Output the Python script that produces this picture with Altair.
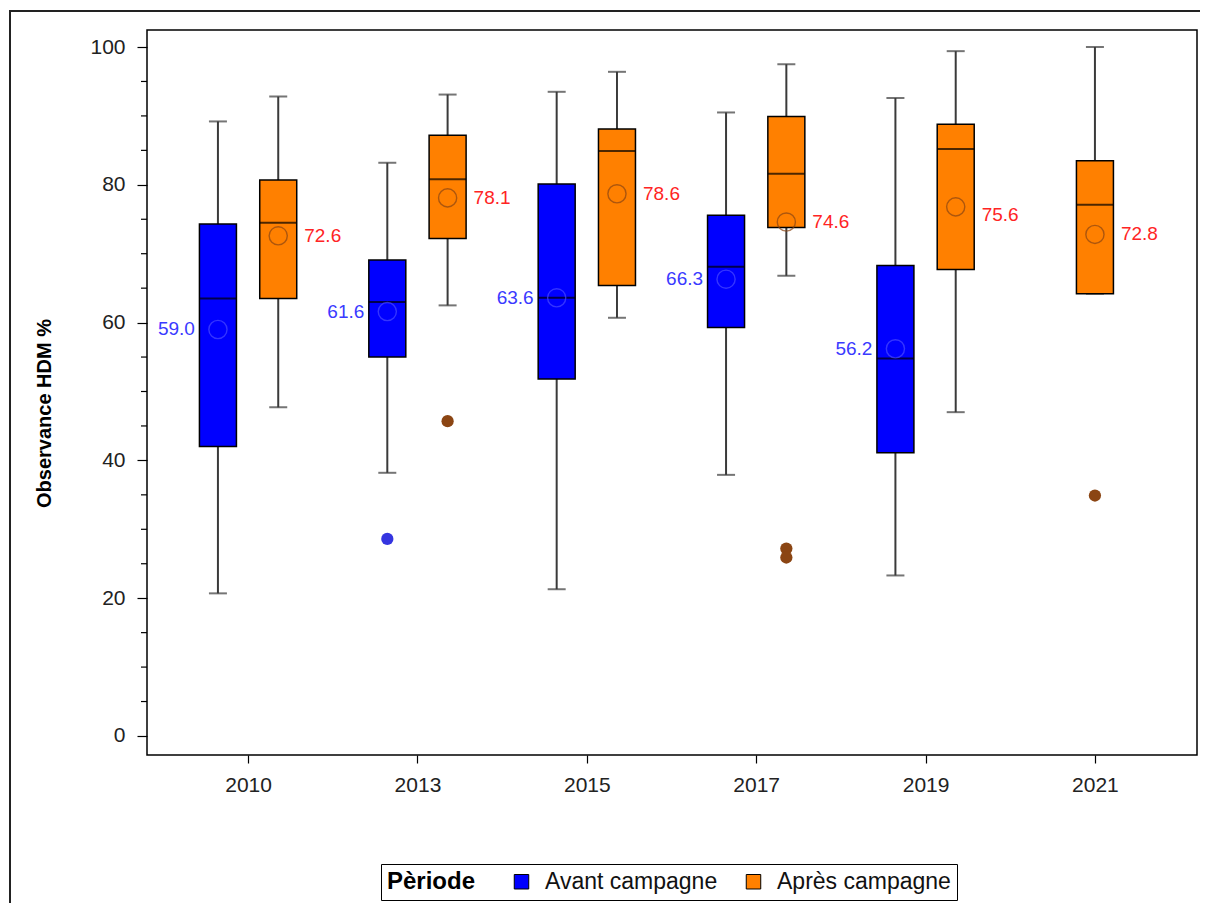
import altair as alt
import pandas as pd

# ---------------- data ----------------
years = ["2010", "2013", "2015", "2017", "2019", "2021"]
periods = ["Avant campagne", "Après campagne"]

avant_years = ["2010", "2013", "2015", "2017", "2019"]
avant_low = [20.7, 38.2, 21.3, 37.9, 23.3]
avant_q1 = [42.0, 55.0, 51.8, 59.3, 41.1]
avant_median = [63.5, 63.0, 63.6, 68.1, 54.8]
avant_q3 = [74.3, 69.1, 80.1, 75.6, 68.3]
avant_high = [89.2, 83.2, 93.5, 90.5, 92.6]
avant_mean = [59.0, 61.6, 63.6, 66.3, 56.2]
avant_mean_label = [59.0, 61.6, 63.6, 66.3, 56.2]

apres_years = ["2010", "2013", "2015", "2017", "2019", "2021"]
apres_low = [47.7, 62.5, 60.7, 66.8, 47.0, 64.2]
apres_q1 = [63.5, 72.2, 65.4, 73.8, 67.7, 64.2]
apres_median = [74.5, 80.8, 84.9, 81.6, 85.2, 77.1]
apres_q3 = [80.7, 87.2, 88.1, 89.9, 88.8, 83.5]
apres_high = [92.8, 93.1, 96.4, 97.5, 99.4, 100.0]
apres_mean = [72.6, 78.1, 78.7, 74.6, 76.8, 72.8]
apres_mean_label = [72.6, 78.1, 78.6, 74.6, 75.6, 72.8]

outlier_period = ["Avant campagne", "Après campagne", "Après campagne",
                  "Après campagne", "Après campagne"]
outlier_year = ["2013", "2013", "2017", "2017", "2021"]
outlier_value = [28.6, 45.7, 27.2, 25.9, 34.9]

y_major = [0, 20, 40, 60, 80, 100]
y_minor = [5, 10, 15, 25, 30, 35, 45, 50, 55, 65, 70, 75, 85, 90, 95]

# ---------------- tables ----------------
avant = pd.DataFrame({"year": avant_years, "periode": periods[0], "lo": avant_low,
                      "q1": avant_q1, "med": avant_median, "q3": avant_q3,
                      "hi": avant_high, "mean": avant_mean, "lab": avant_mean_label})
apres = pd.DataFrame({"year": apres_years, "periode": periods[1], "lo": apres_low,
                      "q1": apres_q1, "med": apres_median, "q3": apres_q3,
                      "hi": apres_high, "mean": apres_mean, "lab": apres_mean_label})
boxes = pd.concat([avant, apres], ignore_index=True)
outl = pd.DataFrame({"year": outlier_year, "periode": outlier_period, "v": outlier_value})

# cluster position of each group inside its year (like a grouped band scale)
GROUP_HALF = 0.178
n_groups = boxes.groupby("year")["periode"].nunique().to_dict()


def xpos(df):
    idx = df["year"].map(years.index).astype(float)
    sign = df["periode"].map({periods[0]: -1.0, periods[1]: 1.0})
    multi = df["year"].map(n_groups) > 1
    return idx + sign * GROUP_HALF * multi


boxes["xpos"] = xpos(boxes)
outl["xpos"] = xpos(outl)
boxes["labtxt"] = boxes["lab"].map(lambda v: f"{v:.1f}")

# ---------------- encodings ----------------
FONT = "Liberation Sans"
xscale = alt.Scale(domain=[-0.5673, 5.5731], nice=False, zero=False)
label_expr = "[" + ",".join(f"'{y}'" for y in years) + "][datum.value]"
xaxis = alt.Axis(values=list(range(len(years))), labelExpr=label_expr, title=None,
                 grid=False, domain=False, tickSize=8, tickColor="black",
                 tickWidth=1.2, labelFont=FONT, labelFontSize=21, labelColor="#222",
                 labelPadding=11)
yscale = alt.Scale(domain=[-2.76, 102.47], nice=False, zero=False)
yaxis = alt.Axis(values=y_major, title="Observance HDM %", grid=False, domain=False,
                 tickSize=10, tickColor="black", tickWidth=1.2, labelFont=FONT,
                 labelFontSize=21, labelColor="#222", labelPadding=12,
                 titleFont=FONT, titleFontSize=20, titleFontWeight="bold",
                 titleColor="black", titleX=-103, titleY=383, titleAngle=-90,
                 titleAlign="center", titleBaseline="middle")


def X():
    return alt.X("xpos:Q", scale=xscale, axis=xaxis)


def Y(field):
    return alt.Y(f"{field}:Q", scale=yscale, axis=yaxis)


base = alt.Chart(boxes)

whisk_low = base.mark_rule(color="#3a3a3a", strokeWidth=2).encode(
    x=X(), y=Y("lo"), y2="q1")
whisk_high = base.mark_rule(color="#3a3a3a", strokeWidth=2).encode(
    x=X(), y=Y("q3"), y2="hi")
cap_low = base.mark_tick(color="#3a3a3a", size=18, thickness=2,
                         orient="horizontal").encode(x=X(), y=Y("lo"))
cap_high = base.mark_tick(color="#3a3a3a", size=18, thickness=2,
                          orient="horizontal").encode(x=X(), y=Y("hi"))

box = base.mark_bar(size=37, stroke="black", strokeWidth=1.5, opacity=1).encode(
    x=X(), y=Y("q1"), y2="q3",
    color=alt.Color("periode:N",
                    scale=alt.Scale(domain=periods, range=["#0000ff", "#ff8000"]),
                    legend=alt.Legend(
                        title="Pèriode", orient="none", legendX=234, legendY=834,
                        direction="horizontal", titleOrient="left",
                        titleFont=FONT, titleFontSize=24, titleFontWeight="bold",
                        titleColor="black", titleBaseline="middle", titlePadding=34,
                        labelFont=FONT, labelFontSize=23, labelColor="#111",
                        labelLimit=400, labelOffset=12, columnPadding=24,
                        symbolType="square", symbolSize=210,
                        symbolStrokeColor="black", symbolStrokeWidth=1,
                        symbolOpacity=1,
                        strokeColor="black", padding=6, fillColor="white")))

median = base.mark_tick(color="black", size=37, thickness=2,
                        orient="horizontal").encode(x=X(), y=Y("med"))

mean_c = base.mark_point(shape="circle", filled=False, size=330,
                         strokeWidth=1.4).encode(
    x=X(), y=Y("mean"),
    color=alt.Color("periode:N",
                    scale=alt.Scale(domain=periods, range=["#4a4aff", "#8b4513"]),
                    legend=None))

outliers = alt.Chart(outl).mark_point(shape="circle", filled=True, size=150,
                                      opacity=1).encode(
    x=X(), y=Y("v"),
    color=alt.Color("periode:N",
                    scale=alt.Scale(domain=periods, range=["#3535e0", "#8b4513"]),
                    legend=None))

lab_avant = base.transform_filter(alt.datum.periode == periods[0]).mark_text(
    align="right", baseline="middle", dx=-23, font=FONT, fontSize=19,
    color="#3a3aff").encode(x=X(), y=Y("lab"), text="labtxt:N")
lab_apres = base.transform_filter(alt.datum.periode == periods[1]).mark_text(
    align="left", baseline="middle", dx=26, font=FONT, fontSize=19,
    color="#ff2424").encode(x=X(), y=Y("lab"), text="labtxt:N")

minor = alt.Chart(pd.DataFrame({"m": y_minor})).mark_rule(
    color="black", strokeWidth=1.2).encode(
    y=Y("m"), x=alt.value(-6), x2=alt.value(0))

outer = alt.Chart(pd.DataFrame({"a": [0]})).mark_rect(
    fill="transparent", stroke="#222", strokeWidth=2).encode(
    x=alt.value(-137), x2=alt.value(1070), y=alt.value(-19), y2=alt.value(900))

chart = alt.layer(
    outer, minor, whisk_low, whisk_high, cap_low, cap_high, box, median,
    mean_c, outliers, lab_avant, lab_apres
).resolve_scale(color="independent").properties(
    width=1050, height=725,
    padding={"left": 139, "top": 22, "right": 3, "bottom": 148},
    autosize=alt.AutoSizeParams(type="none"),
    background="white",
).configure_view(stroke="black", strokeWidth=1.5)

chart.save("out.html", embed_options={"renderer": "svg", "actions": False})
